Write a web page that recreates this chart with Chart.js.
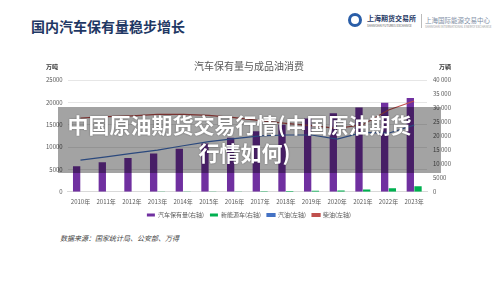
<!DOCTYPE html>
<html>
<head>
<meta charset="utf-8">
<script src="https://cdn.jsdelivr.net/npm/chart.js@4"></script>
<style>
  body { margin: 0; width: 500px; height: 281px; background: #fff; position: relative; overflow: hidden;
         font-family: "Noto Sans CJK SC", "Noto Sans", sans-serif; }
  #head { position: absolute; left: 31px; top: 16px; font-size: 14px; font-weight: bold; color: #1f3864; }
  #logo { position: absolute; left: 348px; top: 13px; width: 14px; height: 14px; border-radius: 50%;
          border: 3px solid #2a5ea8; box-sizing: border-box; }
  #sfe { position: absolute; left: 367px; top: 13px; font-size: 7px; font-weight: bold; color: #1f3864; }
  #sfeEn { position: absolute; left: 367px; top: 24px; font-size: 3px; color: #555; }
  #sep { position: absolute; left: 421px; top: 14px; width: 1px; height: 14px; background: #bbb; }
  #ine { position: absolute; left: 425px; top: 15px; font-size: 6.5px; color: #7f8fa6; }
  #ineEn { position: absolute; left: 425px; top: 25px; font-size: 3px; color: #999; }
  #wrap { position: absolute; left: 0; top: 55px; width: 500px; height: 178px; }
  #band { position: absolute; left: 58px; top: 107px; width: 383px; height: 66px; background: rgba(0,0,0,0.36);
          color: #fff; font-weight: bold; font-size: 21px; line-height: 28px; text-align: center;
          padding: 3px 10px 0 0; box-sizing: border-box; text-shadow: 0 0 2px rgba(0,0,0,0.4); white-space: nowrap; }
  #band span { position: relative; left: -5px; }
  #src { position: absolute; left: 60px; top: 233px; font-size: 7px; font-style: italic; color: #404040; }
</style>
</head>
<body>
<div id="head">国内汽车保有量稳步增长</div>
<div id="logo"></div>
<div id="sfe">上海期货交易所</div>
<div id="sfeEn">SHANGHAI FUTURES EXCHANGE</div>
<div id="sep"></div>
<div id="ine">上海国际能源交易中心</div>
<div id="ineEn">SHANGHAI INTERNATIONAL ENERGY EXCHANGE</div>
<div id="wrap"><canvas id="chartMain"></canvas></div>
<div id="band"><span>中国原油期货交易行情(中国原油期货</span><br>行情如何)</div>
<div id="src">数据来源：国家统计局、公安部、万得</div>

<script>
// categories
const years = ["2010年", "2011年", "2012年", "2013年", "2014年", "2015年", "2016年",
               "2017年", "2018年", "2019年", "2020年", "2021年", "2022年", "2023年"];

// right axis (万辆)
const carStock = [9100, 10600, 12100, 13700, 15400, 17300, 19300, 21700, 24000, 26200, 28100, 30200, 31900, 33600];
const newEnergy = [20, 40, 60, 80, 100, 120, 150, 200, 260, 380, 490, 780, 1250, 2000];

// left axis (万吨)
const gasoline = [7100, 7800, 8600, 9300, 10300, 11200, 11900, 12500, 12700, 12700, 11800, 13300, 13100, 14900];
const diesel = [16500, 16800, 17000, 17300, 17300, 17100, 16600, 15900, 15300, 14800, 14200, 15000, 18300, 20300];

const leftTicks = [0, 5000, 10000, 15000, 20000, 25000];
const rightTicks = [0, 5000, 10000, 15000, 20000, 25000, 30000, 35000, 40000];

const tickFont = { size: 6, family: "Noto Sans CJK SC" };

// unit labels above the two y axes
const unitLabels = {
    id: "unitLabels",
    afterDraw(chart) {
        let c = chart.ctx;
        let top = chart.chartArea.top;
        c.save();
        c.font = "bold 6px 'Noto Sans CJK SC'";
        c.fillStyle = "#404040";
        c.textAlign = "center";
        c.textBaseline = "middle";
        c.fillText("万吨", 52, top - 13);
        c.fillText("万辆", 445, top - 13);
        c.restore();
    }
};

// pull the legend a bit closer to the x labels
const liftLegend = {
    id: "liftLegend",
    afterUpdate(chart) {
        let lg = chart.legend;
        if (!lg) return;
        lg.top -= 5;
        lg.bottom -= 5;
    }
};

let ctx = document.getElementById("chartMain");

new Chart(ctx, {
    data: {
        labels: years,
        datasets: [
            {
                type: "bar",
                label: "汽车保有量(右轴)",
                data: carStock,
                yAxisID: "yR",
                backgroundColor: "#7030a0",
                categoryPercentage: 0.6,
                barPercentage: 0.95,
                order: 3
            },
            {
                type: "bar",
                label: "新能源车(右轴)",
                data: newEnergy,
                yAxisID: "yR",
                backgroundColor: "#00b050",
                categoryPercentage: 0.6,
                barPercentage: 0.95,
                order: 4
            },
            {
                type: "line",
                label: "汽油(左轴)",
                data: gasoline,
                yAxisID: "yL",
                borderColor: "#4472c4",
                backgroundColor: "#4472c4",
                borderWidth: 1.2,
                pointRadius: 0,
                tension: 0,
                order: 1
            },
            {
                type: "line",
                label: "柴油(左轴)",
                data: diesel,
                yAxisID: "yL",
                borderColor: "#c0504d",
                backgroundColor: "#c0504d",
                borderWidth: 1.2,
                pointRadius: 0,
                tension: 0,
                order: 2
            }
        ]
    },
    options: {
        responsive: true,
        maintainAspectRatio: false,
        animation: false,
        layout: { padding: { left: 41, right: 43, top: 0, bottom: 0 } },
        plugins: {
            title: {
                display: true,
                text: "汽车保有量与成品油消费",
                color: "#595959",
                font: { size: 10, family: "Noto Sans CJK SC", weight: "normal" },
                padding: { top: 5, bottom: 8 }
            },
            legend: {
                position: "bottom",
                labels: {
                    boxWidth: 8,
                    boxHeight: 3,
                    padding: 6,
                    color: "#595959",
                    font: tickFont,
                    sort: (a, b) => a.datasetIndex - b.datasetIndex
                }
            },
            tooltip: { enabled: false }
        },
        scales: {
            x: {
                grid: { display: false, drawTicks: false },
                border: { color: "#d9d9d9" },
                ticks: { color: "#595959", font: tickFont, padding: 6, maxRotation: 0, autoSkip: false }
            },
            yL: {
                position: "left",
                min: 0,
                max: 25000,
                afterBuildTicks(axis) { axis.ticks = leftTicks.map(v => ({ value: v })); },
                grid: { color: "#e6e6e6", drawTicks: false },
                border: { display: false },
                ticks: { color: "#595959", font: tickFont, padding: 5, callback: v => String(v) }
            },
            yR: {
                position: "right",
                min: 0,
                max: 40000,
                afterBuildTicks(axis) { axis.ticks = rightTicks.map(v => ({ value: v })); },
                grid: { display: false, drawTicks: false },
                border: { display: false },
                ticks: {
                    color: "#595959",
                    font: tickFont,
                    padding: 6,
                    callback: v => v >= 10000 ? String(v).slice(0, -3) + " " + String(v).slice(-3) : String(v)
                }
            }
        }
    },
    plugins: [unitLabels, liftLegend]
});
</script>
</body>
</html>
